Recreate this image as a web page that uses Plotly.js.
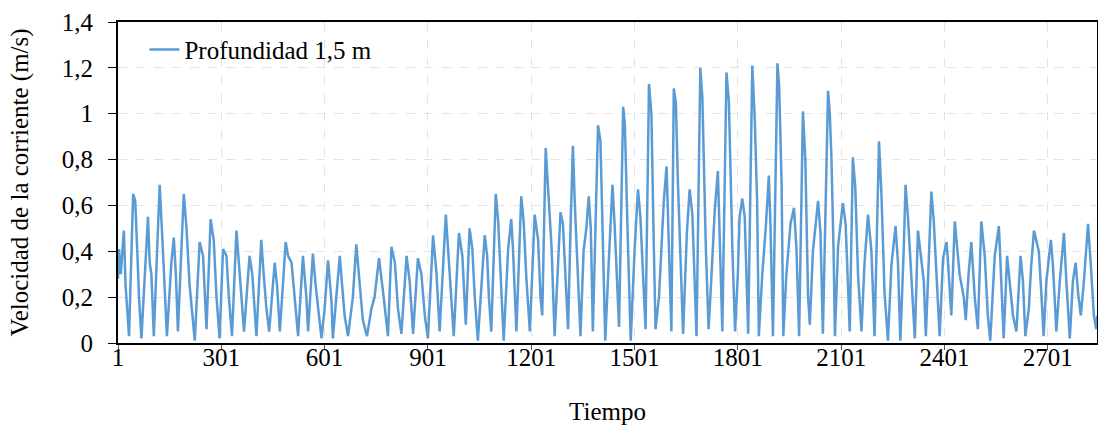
<!DOCTYPE html>
<html>
<head>
<meta charset="utf-8">
<script src="https://cdn.plot.ly/plotly-3.0.1.min.js"></script>
<style>
html,body{margin:0;padding:0;background:#fff;}
#chart{width:1098px;height:428px;}
</style>
</head>
<body>
<div id="chart"></div>
<script>
const serieNombre = "Profundidad 1,5 m";
const tiempo = [1,4,9,18,23,33,45,51,57,62,69,88,93,98,105,122,130,137,143,156,163,169,175,192,200,209,224,
238,248,258,270,279,287,296,306,316,323,332,345,352,359,367,383,391,403,417,424,432,440,456,463,471,488,495,
505,514,524,538,548,553,567,575,585,592,601,611,621,625,645,653,659,669,683,693,703,712,724,737,746,759,771,
780,785,795,805,814,824,839,848,858,872,882,892,901,916,926,935,953,959,969,976,991,1001,1011,1022,
1030,1037,1046,1056,1066,1073,1078,1085,1098,1105,1111,1121,1134,1143,1148,1158,1172,1179,1187,1197,1211,1221,1228,1233,1243,1250,1260,1269,1286,1293,
1301,1308,1316,1322,1327,1337,1344,1353,1361,1368,1374,1380,1395,1402,1409,1416,1426,1437,1443,1456,1468,1473,1482,1490,1501,1511,1518,1533,1543,
1550,1557,1562,1572,1582,1586,1594,1598,1608,1615,1621,1627,1637,1642,1653,1661,1669,1681,1692,1698,1708,1716,1724,1734,1743,1750,1756,1768,1775,1785,1793,1801,1806,
1814,1821,1831,1843,1850,1857,1862,1872,1882,1891,1896,1903,1916,1921,1928,1933,1942,1954,1964,1971,1979,1990,1997,2005,2010,2019,2034,2041,2048,2063,2068,
2073,2079,2083,2092,2100,2106,2114,2121,2126,2135,2142,2150,2160,2169,2179,2189,2198,2211,2218,2227,2237,2247,2259,2266,2273,2283,2288,2295,2305,2315,2324,2334,
2341,2347,2353,2363,2370,2378,2387,2397,2407,2411,2421,2431,2437,2445,2457,2463,2471,2479,2489,2498,2508,2518,2527,2534,2547,2559,2566,2573,2583,2590,
2600,2610,2622,2629,2636,2646,2653,2661,2668,2675,2683,2689,2697,2710,2716,2726,2736,2748,2755,2765,2774,2782,2789,2797,2806,2818,2826,2835,2842,2845];
const velocidad = [.28,.41,.30,.49,.25,.03,.65,.62,.40,.20,.02,.55,.35,.30,.03,.69,.45,.25,.03,.35,.46,.30,.05,.65,.50,.25,.01,
.44,.38,.06,.54,.45,.20,.02,.41,.38,.20,.03,.49,.35,.20,.05,.38,.30,.03,.45,.30,.15,.05,.35,.25,.05,.44,.38,
.35,.20,.03,.38,.20,.05,.39,.25,.10,.02,.15,.36,.18,.02,.38,.25,.12,.03,.20,.43,.25,.10,.03,.15,.20,.37,.22,
.08,.03,.42,.35,.15,.04,.38,.27,.04,.37,.30,.12,.02,.47,.30,.05,.56,.42,.20,.03,.48,.38,.08,.50,
.41,.20,.01,.24,.47,.38,.20,.05,.65,.53,.33,.01,.41,.54,.41,.05,.64,.53,.28,.05,.56,.45,.20,.12,.85,.68,.42,.03,.57,.52,
.30,.06,.55,.86,.63,.27,.03,.40,.50,.64,.50,.05,.95,.88,.42,.01,.35,.69,.52,.07,1.03,.95,.42,.01,.40,.67,.55,.06,1.13,
1.0,.42,.06,.20,.50,.62,.77,.55,.05,1.11,1.05,.70,.27,.04,.48,.67,.56,.03,1.20,1.07,.42,.06,.28,.58,.75,.42,.05,1.18,1.05,.42,.05,.30,.55,
.63,.55,.04,1.21,.98,.62,.03,.30,.50,.73,.50,.03,1.22,1.12,.70,.03,.30,.52,.59,.42,.03,1.01,.80,.20,.08,.40,.62,.48,.04,1.10,1.0,
.80,.40,.03,.42,.52,.61,.52,.27,.05,.81,.68,.30,.05,.35,.56,.40,.03,.88,.65,.22,.01,.34,.51,.35,.01,.42,.69,.55,.27,.02,.49,.35,
.27,.03,.27,.66,.53,.27,.03,.37,.44,.36,.12,.53,.44,.30,.20,.10,.30,.44,.20,.06,.53,.38,.12,.01,.38,.51,.27,.02,.38,.27,
.12,.05,.38,.27,.03,.15,.34,.49,.44,.40,.20,.03,.27,.45,.34,.05,.27,.48,.27,.02,.27,.35,.22,.12,.27,.52,.34,.12,.06,.12];
const xTicks = [1,301,601,901,1201,1501,1801,2101,2401,2701];
const yTicks = [0,0.2,0.4,0.6,0.8,1,1.2,1.4];
const yTickLabels = ["0","0,2","0,4","0,6","0,8","1","1,2","1,4"];

const FONT = "'Liberation Serif','Times New Roman',serif";
const FS = 25;

const trace = {
  x: tiempo, y: velocidad, type: 'scatter', mode: 'lines', name: serieNombre,
  line: {color: '#5B9BD5', width: 2.5}
};

const layout = {
  width: 1098, height: 428,
  margin: {l: 118, r: 1, t: 22, b: 85},
  paper_bgcolor: '#fff', plot_bgcolor: '#fff',
  font: {family: FONT, size: FS, color: '#000'},
  showlegend: true,
  legend: {x: 0.027, y: 0.985, xanchor: 'left', yanchor: 'top', bgcolor: 'rgba(0,0,0,0)',
           font: {family: FONT, size: FS, color: '#000'}, itemwidth: 30},
  xaxis: {
    range: [1, 2844], tickvals: xTicks, ticktext: xTicks.map(String),
    showgrid: true, gridcolor: '#e3e3e3', griddash: 'dash', gridwidth: 1,
    showline: true, linecolor: '#000', linewidth: 2, mirror: true,
    ticks: 'outside', ticklen: 5, tickcolor: '#555', tickwidth: 1,
    zeroline: false, ticklabelstandoff: -14,
    tickfont: {family: FONT, size: FS, color: '#000'},
    title: {text: 'Tiempo', font: {family: FONT, size: FS, color: '#000'}, standoff: 32}
  },
  yaxis: {
    range: [0, 1.4], tickvals: yTicks, ticktext: yTickLabels,
    showgrid: true, gridcolor: '#e3e3e3', griddash: 'dash', gridwidth: 1,
    showline: true, linecolor: '#000', linewidth: 2, mirror: true,
    ticks: 'outside', ticklen: 8, tickcolor: '#000', tickwidth: 1,
    zeroline: false, ticklabelstandoff: 10,
    tickfont: {family: FONT, size: FS, color: '#000'},
    title: {text: 'Velocidad de la corriente (m/s)', font: {family: FONT, size: FS, color: '#000'}, standoff: 26}
  }
};

Plotly.newPlot('chart', [trace], layout, {displayModeBar: false, staticPlot: true});
</script>
</body>
</html>
